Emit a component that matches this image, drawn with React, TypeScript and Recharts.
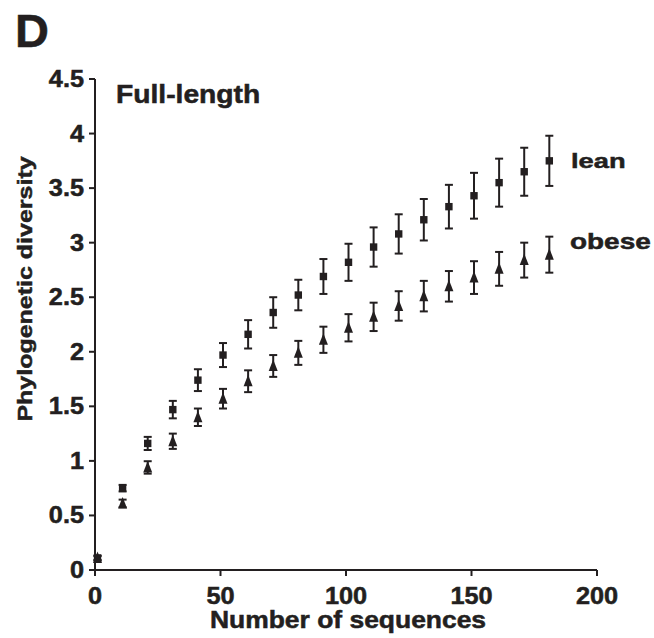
import { ScatterChart, Scatter, XAxis, YAxis, ErrorBar } from "recharts";

const sampleSizes = [1, 11, 21, 31, 41, 51, 61, 71, 81, 91, 101, 111, 121, 131, 141, 151, 161, 171, 181];
const leanPd = [0.11, 0.75, 1.16, 1.47, 1.74, 1.97, 2.16, 2.36, 2.52, 2.69, 2.82, 2.96, 3.08, 3.21, 3.33, 3.43, 3.55, 3.65, 3.75];
const leanErr = [0.02, 0.03, 0.06, 0.08, 0.1, 0.11, 0.13, 0.14, 0.14, 0.16, 0.17, 0.18, 0.18, 0.19, 0.2, 0.21, 0.22, 0.22, 0.23];
const obesePd = [0.11, 0.61, 0.94, 1.18, 1.4, 1.57, 1.73, 1.87, 1.99, 2.11, 2.22, 2.32, 2.42, 2.51, 2.6, 2.68, 2.76, 2.84, 2.89];
const obeseErr = [0.02, 0.035, 0.057, 0.07, 0.08, 0.09, 0.1, 0.1, 0.11, 0.12, 0.125, 0.13, 0.135, 0.14, 0.14, 0.15, 0.155, 0.16, 0.165];

const xTicks = [0, 50, 100, 150, 200];
const yTicks = [0, 0.5, 1, 1.5, 2, 2.5, 3, 3.5, 4, 4.5];

const leanData = sampleSizes.map((n, i) => ({ n, pd: leanPd[i], err: leanErr[i] }));
const obeseData = sampleSizes.map((n, i) => ({ n, pd: obesePd[i], err: obeseErr[i] }));

const ink = "#231f20";
const font = "'Liberation Sans', Arial, Helvetica, sans-serif";

// wide bold text, the original font runs wider and heavier than Arial
function WideText({ x, y, sx = 1, size, anchor = "start", rotate = 0, children }: any) {
  return (
    <g transform={`translate(${x},${y}) rotate(${rotate}) scale(${sx},1)`}>
      <text
        x={0}
        y={0}
        textAnchor={anchor}
        fontFamily={font}
        fontWeight="bold"
        fontSize={size}
        fill={ink}
        stroke={ink}
        strokeWidth={0.5}
      >
        {children}
      </text>
    </g>
  );
}

function XTick(props: any) {
  const { x, y, payload } = props;
  return <WideText x={x} y={y + 26} sx={1.1} size={23} anchor="middle">{payload.value}</WideText>;
}

function YTick(props: any) {
  const { x, y, payload } = props;
  return <WideText x={x} y={y + 8} sx={1.1} size={23} anchor="end">{payload.value}</WideText>;
}

function Square(props: any) {
  const { cx, cy } = props;
  return <rect x={cx - 3.7} y={cy - 3.7} width={7.4} height={7.4} fill={ink} />;
}

function Triangle(props: any) {
  const { cx, cy } = props;
  return <polygon points={`${cx},${cy - 6.5} ${cx + 4.5},${cy + 5} ${cx - 4.5},${cy + 5}`} fill={ink} />;
}

export default function App() {
  return (
    <div style={{ position: "absolute", left: 0, top: 0, width: 654, height: 638, background: "#fff" }}>
      <ScatterChart width={654} height={638} margin={{ top: 79, right: 57, bottom: 38, left: 0 }}>
        <XAxis
          type="number"
          dataKey="n"
          domain={[0, 200]}
          ticks={xTicks}
          height={30}
          tickSize={6}
          tickMargin={2}
          axisLine={{ stroke: ink, strokeWidth: 2 }}
          tickLine={{ stroke: ink, strokeWidth: 2 }}
          tick={<XTick />}
        />
        <YAxis
          type="number"
          dataKey="pd"
          domain={[0, 4.5]}
          ticks={yTicks}
          width={95}
          tickSize={6}
          tickMargin={5}
          axisLine={{ stroke: ink, strokeWidth: 2 }}
          tickLine={{ stroke: ink, strokeWidth: 2 }}
          tick={<YTick />}
        />
        <Scatter data={leanData} shape={<Square />} isAnimationActive={false}>
          <ErrorBar dataKey="err" direction="y" width={4} strokeWidth={2} stroke={ink} isAnimationActive={false} />
        </Scatter>
        <Scatter data={obeseData} shape={<Triangle />} isAnimationActive={false}>
          <ErrorBar dataKey="err" direction="y" width={4} strokeWidth={2} stroke={ink} isAnimationActive={false} />
        </Scatter>
      </ScatterChart>
      <svg width={654} height={638} style={{ position: "absolute", left: 0, top: 0, pointerEvents: "none" }}>
        <WideText x={15} y={47} size={47}>D</WideText>
        <WideText x={116} y={103} sx={1.13} size={25}>Full-length</WideText>
        <WideText x={571} y={168} sx={1.3} size={21}>lean</WideText>
        <WideText x={570} y={249} sx={1.27} size={22}>obese</WideText>
        <WideText x={348} y={628} sx={1.15} size={23} anchor="middle">Number of sequences</WideText>
        <WideText x={32} y={289} sx={1.19} size={21} anchor="middle" rotate={-90}>Phylogenetic diversity</WideText>
      </svg>
    </div>
  );
}
